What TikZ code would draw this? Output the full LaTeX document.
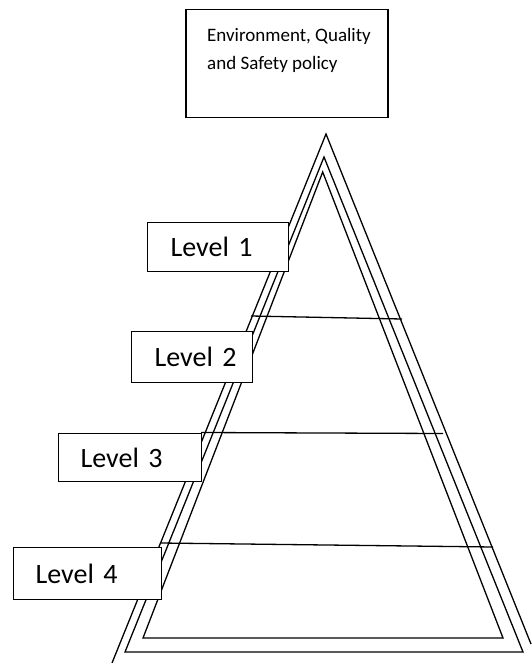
\documentclass[tikz,border=0pt]{standalone}
\usepackage{fontspec}
\setmainfont{Carlito}
\begin{document}
\begin{tikzpicture}[x=1pt,y=-1pt,
  ln/.style={line width=1.3pt, line join=miter},
  lvl/.style={draw, line width=1.3pt, fill=white, anchor=north west, align=left,
    inner xsep=0pt, inner ysep=0pt, font=\fontsize{28}{32}\selectfont},
  topbox/.style={draw, line width=1.5pt, fill=white, anchor=north west, inner sep=0pt},
  toptext/.style={anchor=north west, inner sep=0pt, align=left, font=\fontsize{19}{28}\selectfont}]
\useasboundingbox (0,0) rectangle (531,663);
% outer open triangle
\coordinate (oL) at (112,663);
\coordinate (oA) at (326,134);
\coordinate (oR) at (531,644);
\draw[ln] (oL) -- (oA) -- (oR);
% middle triangle
\draw[ln] (324,157) -- (523,652) -- (125,652) -- cycle;
% inner triangle
\draw[ln] (322.7,172) -- (503,638) -- (143,638) -- cycle;
% dividers
\draw[ln] (251,316) -- (402,319);
\draw[ln] (201,432.5) -- (443,433.5);
\draw[ln] (160,543) -- (493,547);
% boxes
\node[topbox, minimum width=202pt, minimum height=108pt] (policy) at (185,9) {};
\node[toptext] (policytext) at (207,28) {Environment, Quality\\and Safety policy};
\node[lvl, minimum width=141pt, minimum height=49pt, text width=141pt] (l1) at (147,222) {\hspace*{23pt}Level 1};
\node[lvl, minimum width=121pt, minimum height=51pt, text width=121pt] (l2) at (131,331) {\hspace*{23pt}Level 2};
\node[lvl, minimum width=143pt, minimum height=48pt, text width=143pt] (l3) at (58,433) {\hspace*{22pt}Level 3};
\node[lvl, minimum width=148pt, minimum height=52pt, text width=148pt] (l4) at (13,547) {\hspace*{22pt}Level 4};
\end{tikzpicture}
\end{document}
